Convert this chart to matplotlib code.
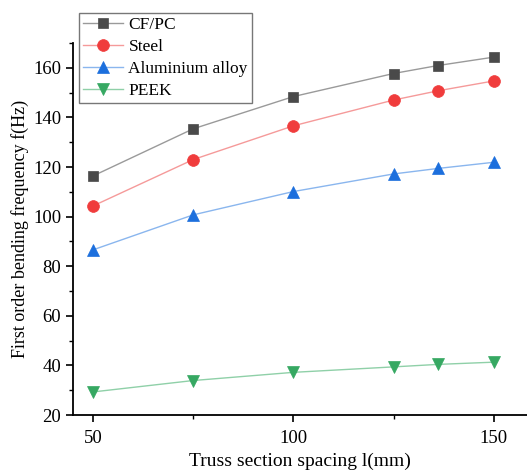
import matplotlib
matplotlib.use("Agg")
import matplotlib.pyplot as plt
from matplotlib.ticker import MultipleLocator, FixedLocator

plt.rcParams['font.family'] = ['Liberation Serif', 'DejaVu Serif']

spacing = [50, 75, 100, 125, 136, 150]
cfpc = [116.4, 135.4, 148.4, 157.7, 160.9, 164.3]
steel = [104.3, 123.0, 136.6, 147.0, 150.7, 154.7]
alu = [86.6, 100.7, 110.1, 117.2, 119.4, 121.9]
peek = [29.3, 33.9, 37.2, 39.4, 40.4, 41.3]

series_names = ["CF/PC", "Steel", "Aluminium alloy", "PEEK"]

fig = plt.figure(figsize=(5.27, 4.70), dpi=100)
ax = fig.add_axes([73/527, 55/470, 454/527, 372/470])

styles = [
    (cfpc, "s", "#4a4a4a", "#9a9a9a", 7.5),
    (steel, "o", "#f03c3c", "#f59a9a", 8.5),
    (alu, "^", "#1c6fdd", "#8ab6ee", 9),
    (peek, "v", "#36a862", "#8fd0a8", 9),
]
for (vals, m, mc, lc, ms), name in zip(styles, series_names):
    ax.plot(spacing, vals, color=lc, lw=1.0, marker=m, markersize=ms,
            markerfacecolor=mc, markeredgecolor=mc, markeredgewidth=0.5, label=name)

ax.set_xlim(45, 158.3)
ax.set_ylim(20, 170)
ax.xaxis.set_major_locator(FixedLocator([50, 100, 150]))
ax.xaxis.set_minor_locator(FixedLocator([75, 125]))
ax.yaxis.set_major_locator(MultipleLocator(20))
ax.yaxis.set_minor_locator(MultipleLocator(10))
ax.tick_params(which='major', direction='out', length=5, width=1.2, labelsize=13.5, colors='black')
ax.tick_params(which='minor', direction='out', length=3, width=1.0)
ax.tick_params(axis='x', which='major', pad=6)
for s in ['top', 'right']:
    ax.spines[s].set_visible(False)
for s in ['left', 'bottom']:
    ax.spines[s].set_linewidth(1.3)

ax.set_xlabel("Truss section spacing l(mm)", fontsize=14, labelpad=4)
ax.set_ylabel("First order bending frequency f(Hz)", fontsize=13, labelpad=3)

leg = ax.legend(loc='upper left', bbox_to_anchor=(6/454, 1 + 30/372), fontsize=12.5,
                frameon=True, fancybox=False, edgecolor='#555555', borderpad=0.25,
                labelspacing=0.33, handlelength=2.3, handletextpad=0.3, borderaxespad=0)
leg.get_frame().set_linewidth(1.0)

fig.savefig("out.png", dpi=100)
